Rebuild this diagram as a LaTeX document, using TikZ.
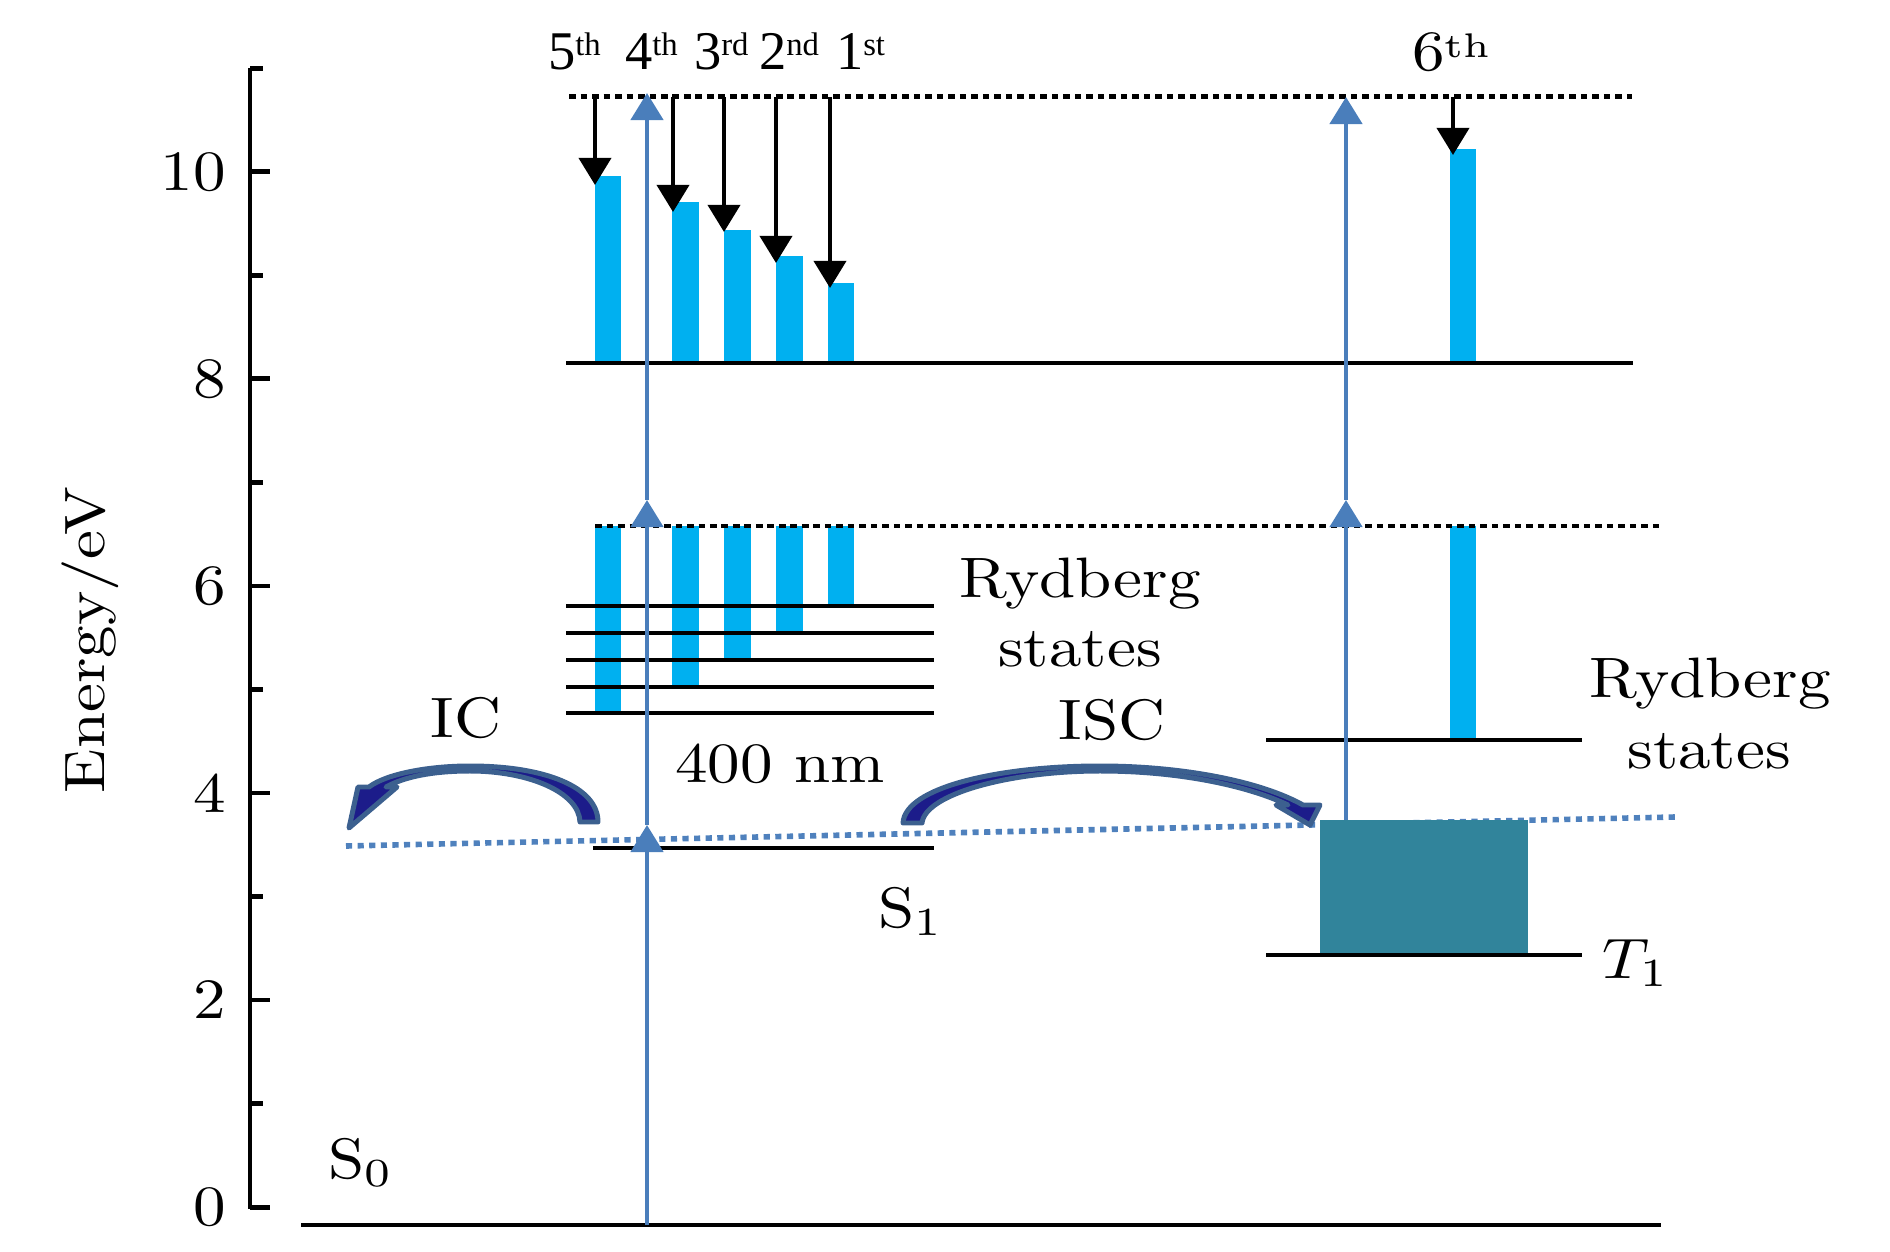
\documentclass[tikz,border=0pt]{standalone}
\usepackage{fontspec}
\usepackage{graphicx}
\newfontfamily\timesf{Liberation Serif}
\usetikzlibrary{arrows.meta}
\definecolor{barblue}{RGB}{0,176,240}
\definecolor{tealblk}{RGB}{49,132,155}
\definecolor{arrblue}{RGB}{74,126,187}
\definecolor{dotblue}{RGB}{79,129,189}
\definecolor{cvout}{RGB}{60,96,143}
\definecolor{cvin}{RGB}{28,28,138}
\newcommand\cmt[1]{\scalebox{1.85}[1.62]{\fontsize{10}{12}\selectfont #1}}
\newcommand\tmt[2]{\scalebox{1.55}{\fontsize{10}{12}\selectfont\timesf #1\raisebox{2.7pt}{\fontsize{6}{7}\selectfont #2}}}
\tikzset{
  lvl/.style={line width=1.3pt, black},
  dotk/.style={line width=1.42pt, black, dash pattern=on 1.85pt off 1.42pt},
  dotb/.style={line width=1.6pt, dotblue, dash pattern=on 1.75pt off 1.55pt},
  barbox/.style={fill=barblue, draw=none},
  uparr/.style={line width=1.35pt, arrblue, -{Triangle[length=7.7pt,width=9.1pt]}},
  downarr/.style={line width=1.15pt, black, -{Triangle[length=7.7pt,width=9.1pt]}},
  curvarr/.style={fill=cvin, draw=cvout, line width=1.42pt, line join=round},
  axisl/.style={line width=1.42pt, black},
  lab/.style={inner sep=0pt, outer sep=0pt}
}
\begin{document}
\begin{tikzpicture}[x=0.01cm, y=-0.01cm]
\useasboundingbox (0,0) rectangle (1890,1252);

% sloped blue dotted line
\coordinate (dl) at (346,846);
\coordinate (dr) at (1676,817);
\draw[dotb] (dl) -- (dr);

% bars upper
\fill[barbox] (595,176) rectangle (621,363);
\fill[barbox] (672,202) rectangle (699,363);
\fill[barbox] (724,230) rectangle (751,363);
\fill[barbox] (776,256) rectangle (803,363);
\fill[barbox] (828,283) rectangle (854,363);
\fill[barbox] (1450,149) rectangle (1476,363);
% bars lower
\fill[barbox] (595,526) rectangle (621,713);
\fill[barbox] (672,526) rectangle (699,687);
\fill[barbox] (724,526) rectangle (751,660);
\fill[barbox] (776,526) rectangle (803,633);
\fill[barbox] (828,526) rectangle (854,606);
\fill[barbox] (1450,526) rectangle (1476,740);

% T1 block
\fill[tealblk] (1320,820) rectangle (1528,955);

% levels
\draw[lvl] (566,363) -- (1633,363);
\foreach \yy in {606,633,660,687,713} \draw[lvl] (566,\yy) -- (934,\yy);
\draw[lvl] (593,848) -- (934,848);
\draw[lvl] (1266,740) -- (1582,740);
\draw[lvl] (1266,955) -- (1582,955);
\draw[lvl] (301,1225) -- (1661,1225);

% dotted black levels
\draw[dotk] (569,97) -- (1632,97);
\draw[dotk] (595,526) -- (1659,526);

% blue excitation arrows
\coordinate (la0) at (647,1225);
\coordinate (la1) at (647,825);
\coordinate (la2) at (647,500);
\coordinate (la3) at (647,93);
\draw[uparr] (la0) -- (la1);
\draw[uparr] (la1) -- (la2);
\draw[uparr] (la2) -- (la3);
\coordinate (ra0) at (1346,820);
\coordinate (ra1) at (1346,500);
\coordinate (ra2) at (1346,97);
\draw[uparr] (ra0) -- (ra1);
\draw[uparr] (ra1) -- (ra2);

% black down arrows
\foreach \n/\xx/\tt in {5/595/185, 4/673/212, 3/724/232, 2/776/263, 1/830/288, 6/1453/155}{
  \coordinate (ks\n) at (\xx,97);
  \coordinate (kt\n) at (\xx,\tt);
  \draw[downarr] (ks\n) -- (kt\n);
}

% IC curved arrow
\draw[curvarr]
 (580,822) .. controls (579,792) and (528,771) .. (470,771)
 .. controls (432,771) and (404,777) .. (386,787)
 -- (397,787) -- (349,828) -- (358,787) -- (369,787)
 .. controls (386,774) and (428,766) .. (470,766)
 .. controls (545,766) and (598,787) .. (598,822) -- cycle;
% ISC curved arrow
\draw[curvarr]
 (922,823) .. controls (925,794) and (1010,771) .. (1100,771)
 .. controls (1180,771) and (1248,786) .. (1288,805)
 -- (1276,805) -- (1310,825) -- (1320,805) -- (1303,805)
 .. controls (1262,782) and (1185,766) .. (1100,766)
 .. controls (1000,766) and (905,787) .. (903,823) -- cycle;

% axis
\draw[axisl] (250,68) -- (250,1209);
\foreach \e in {0,2,...,10} {
  \draw[axisl] (250,{1207-103.5*\e}) -- (270,{1207-103.5*\e});
  \node[lab, anchor=east] (tick\e) at (226,{1207-103.5*\e}) {\cmt{\e}};
}
\foreach \e in {1,3,...,11}
  \draw[axisl] (250,{1207-103.5*\e}) -- (263,{1207-103.5*\e});
\node[lab, rotate=90] (ylab) at (90,640) {\cmt{Energy/eV}};

% labels
\node[lab, anchor=base west] (o5) at (548,70) {\tmt{5}{th}};
\node[lab, anchor=base west] (o4) at (625,70) {\tmt{4}{th}};
\node[lab, anchor=base west] (o3) at (694,70) {\tmt{3}{rd}};
\node[lab, anchor=base west] (o2) at (759,70) {\tmt{2}{nd}};
\node[lab, anchor=base west] (o1) at (836,70) {\tmt{1}{st}};
\node[lab, anchor=base west] (o6) at (1412,71) {\cmt{6\raisebox{2.3pt}{\fontsize{6}{7}\selectfont th}}};

\node[lab, anchor=base] (ryl1) at (1080,598) {\cmt{Rydberg}};
\node[lab, anchor=base] (ryl2) at (1080,667) {\cmt{states}};
\node[lab, anchor=base] (ryr1) at (1710,698) {\cmt{Rydberg}};
\node[lab, anchor=base] (ryr2) at (1709,768) {\cmt{states}};
\node[lab, anchor=base] (ic) at (466,738) {\cmt{IC}};
\node[lab, anchor=base] (isc) at (1112,740) {\cmt{ISC}};
\node[lab, anchor=base] (nm) at (780,783) {\cmt{400 nm}};
\node[lab, anchor=base west] (s1) at (878,927) {\cmt{$\mathrm{S}_1$}};
\node[lab, anchor=base west] (s0) at (328,1178) {\cmt{$\mathrm{S}_0$}};
\node[lab, anchor=base west] (t1) at (1602,978) {\cmt{$T_1$}};
\end{tikzpicture}
\end{document}
